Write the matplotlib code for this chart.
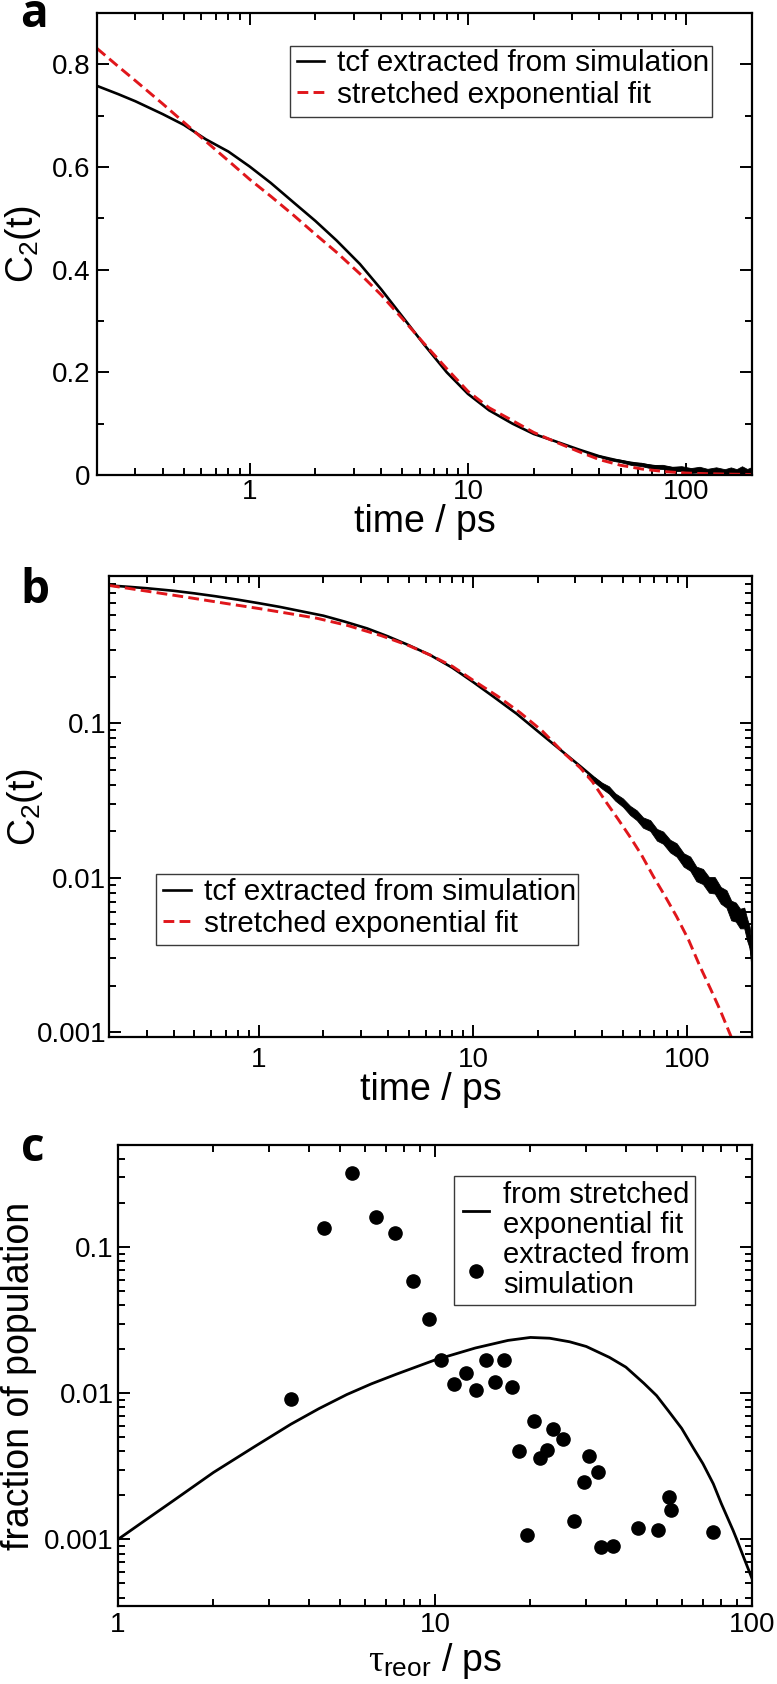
import matplotlib
matplotlib.use("Agg")
import matplotlib.pyplot as plt
from matplotlib.patches import Rectangle
from matplotlib.ticker import LogLocator, NullFormatter, MultipleLocator

plt.rcParams['font.family'] = ['Liberation Sans', 'DejaVu Sans']
plt.rcParams['mathtext.fontset'] = 'custom'
plt.rcParams['mathtext.rm'] = 'Liberation Sans'
plt.rcParams['mathtext.it'] = 'Liberation Serif'
plt.rcParams['mathtext.bf'] = 'Liberation Sans:bold'

# ---------------- data ----------------
# panel a : linear C2(t)
a_tcf_time = [0.2, 0.25, 0.3, 0.4, 0.5, 0.63, 0.8, 1.0, 1.25, 1.6, 2.0, 2.5, 3.2, 4.0, 5.0, 6.3, 8.0,
              10, 12.5, 16, 20, 25, 32, 40, 50, 63, 80, 100, 125, 160, 200]
a_tcf_c2 = [0.758, 0.742, 0.728, 0.703, 0.682, 0.654, 0.630, 0.601, 0.569, 0.530, 0.495, 0.457, 0.411,
            0.362, 0.309, 0.254, 0.200, 0.158, 0.126, 0.100, 0.080, 0.066, 0.050, 0.0365, 0.027, 0.020,
            0.0145, 0.0105, 0.008, 0.0058, 0.0045]
a_noise_time = [35, 40, 45, 50, 56, 62, 70, 78, 86, 95, 105, 115, 125, 137, 150, 160, 170, 180, 190, 200]
a_noise_upper = [0.043, 0.0385, 0.0325, 0.030, 0.025, 0.024, 0.0195, 0.0198, 0.016, 0.0172, 0.0135, 0.016,
                 0.012, 0.015, 0.0113, 0.0148, 0.0114, 0.017, 0.0117, 0.0155]
a_noise_lower = [0.041, 0.035, 0.0285, 0.025, 0.0195, 0.0175, 0.0125, 0.0118, 0.0075, 0.0077, 0.004, 0.005,
                 0.001, 0.0025, -0.0017, 0.0008, -0.0036, -0.001, -0.0063, -0.0035]
a_fit_time = [0.2, 0.25, 0.3, 0.4, 0.5, 0.63, 0.8, 1.0, 1.25, 1.6, 2.0, 2.5, 3.2, 4.0, 5.0, 6.3, 8.0,
              10, 12.5, 16, 20, 25, 32, 40, 50, 63, 80, 100, 125, 160, 200]
a_fit_c2 = [0.831, 0.796, 0.768, 0.723, 0.687, 0.650, 0.612, 0.576, 0.543, 0.505, 0.469, 0.434, 0.392,
            0.351, 0.305, 0.256, 0.207, 0.163, 0.131, 0.106, 0.083, 0.065, 0.046, 0.030, 0.019, 0.0115,
            0.0065, 0.0038, 0.0025, 0.0016, 0.0010]

# panel b : logarithmic C2(t)
b_tcf_time = [0.2, 0.25, 0.3, 0.4, 0.5, 0.63, 0.8, 1.0, 1.25, 1.6, 2.0, 2.5, 3.2, 4.0, 5.0, 6.3, 8.0,
              10, 12.5, 16, 20, 25, 32, 40, 50, 58, 67, 77, 89, 103, 118, 134, 152, 168, 184, 195, 200]
b_tcf_c2 = [0.782, 0.765, 0.750, 0.722, 0.695, 0.665, 0.632, 0.600, 0.568, 0.530, 0.498, 0.457, 0.412,
            0.366, 0.321, 0.277, 0.229, 0.185, 0.148, 0.115, 0.089, 0.069, 0.052, 0.040, 0.0302, 0.0248,
            0.0213, 0.0178, 0.0148, 0.0120, 0.0099, 0.0087, 0.0071, 0.0058, 0.0053, 0.0040, 0.0031]
b_noise_time = [34, 37, 40, 43, 46, 50, 54, 58, 62, 67, 72, 77, 83, 89, 96, 103, 110, 118, 126, 134, 143,
                152, 160, 168, 176, 184, 190, 195, 198, 200]
b_noise_upper = [0.0467, 0.0446, 0.0412, 0.0391, 0.0352, 0.0326, 0.0292, 0.0273, 0.0246, 0.0236, 0.0207,
                 0.0199, 0.0176, 0.0167, 0.0144, 0.0137, 0.0118, 0.0114, 0.0101, 0.0101, 0.0087, 0.0083,
                 0.0071, 0.0069, 0.0063, 0.0064, 0.0054, 0.0048, 0.0039, 0.0036]
b_noise_lower = [0.0449, 0.0413, 0.0377, 0.0351, 0.0316, 0.0288, 0.0255, 0.0236, 0.0211, 0.0201, 0.0174,
                 0.0166, 0.0146, 0.0137, 0.0118, 0.0111, 0.0095, 0.0091, 0.0080, 0.0079, 0.0068, 0.0064,
                 0.0053, 0.0052, 0.0047, 0.0047, 0.0039, 0.0035, 0.0028, 0.0026]
b_fit_time = [0.2, 0.3, 0.45, 0.7, 1.01, 1.4, 1.87, 2.6, 3.72, 5.0, 6.3, 8.0, 10, 13, 16.6, 21, 26.4,
              31.6, 36, 42, 47.5, 53.8, 61, 69.3, 78.5, 89, 101, 114.6, 128, 142, 159, 165]
b_fit_c2 = [0.782, 0.718, 0.659, 0.598, 0.553, 0.513, 0.479, 0.430, 0.370, 0.319, 0.277, 0.234, 0.190,
            0.150, 0.117, 0.0893, 0.0645, 0.0515, 0.0419, 0.0305, 0.0239, 0.0185, 0.01406, 0.0102,
            0.00762, 0.0056, 0.00398, 0.00265, 0.00191, 0.00139, 0.00095, 0.00084]

# panel c : distribution of reorientation times
c_fit_tau = [1, 1.2, 1.5, 2, 2.7, 3.51, 4.3, 5.27, 6.3, 7.55, 10, 13.4, 17, 20, 23, 26.6, 30, 35.5, 40,
             45.6, 50, 54.6, 60, 65.4, 70, 75.5, 80, 87.2, 89.5, 94, 100]
c_fit_frac = [0.00100, 0.00132, 0.00185, 0.00287, 0.00432, 0.00614, 0.00784, 0.0098, 0.0116, 0.0135,
              0.0169, 0.0204, 0.0230, 0.0241, 0.0238, 0.0225, 0.0209, 0.0176, 0.0151, 0.0117, 0.00964,
              0.00753, 0.00575, 0.0042, 0.0033, 0.0024, 0.00176, 0.00115, 0.00100, 0.00076, 0.00054]
c_sim_tau = [3.51, 4.48, 5.48, 6.52, 7.47, 8.51, 9.55, 10.48, 11.5, 12.5, 13.5, 14.5, 15.45, 16.5, 17.5,
             18.4, 19.5, 20.5, 21.5, 22.6, 23.5, 25.4, 27.5, 29.5, 30.6, 32.7, 33.5, 36.5, 43.6, 50.5,
             54.6, 55.4, 75.5]
c_sim_frac = [0.00908, 0.135, 0.322, 0.16, 0.124, 0.0584, 0.0323, 0.0168, 0.01154, 0.01368, 0.01045, 0.01686,
              0.012, 0.01686, 0.011, 0.00403, 0.00107, 0.0065, 0.00362, 0.00412, 0.00571, 0.00485, 0.00134,
              0.00248, 0.00373, 0.0029, 0.00089, 0.000906, 0.00119, 0.001156, 0.00196, 0.0016, 0.001125]

x_major = [1, 10, 100]
x_major_labels = ['1', '10', '100']
a_y_major = [0, 0.2, 0.4, 0.6, 0.8]
a_y_labels = ['0', '0.2', '0.4', '0.6', '0.8']
log_y_major = [0.001, 0.01, 0.1]
log_y_labels = ['0.001', '0.01', '0.1']

RED = '#e0161b'
W, H = 777, 1684

fig = plt.figure(figsize=(W / 100, H / 100), dpi=100)


def box(l, t, r, b):
    return [l / W, 1 - b / H, (r - l) / W, (b - t) / H]


axa = fig.add_axes(box(97, 13, 752, 475))
axb = fig.add_axes(box(109, 576, 752, 1037))
axc = fig.add_axes(box(118, 1145, 752, 1606))


def style(ax, xpad, ypad):
    for s in ax.spines.values():
        s.set_linewidth(1.6)
    ax.tick_params(which='both', direction='in', top=True, right=True, labelsize=20, width=1.4)
    ax.tick_params(which='major', length=8.5)
    ax.tick_params(which='minor', length=5)
    ax.tick_params(axis='x', which='major', pad=xpad)
    ax.tick_params(axis='y', which='major', pad=ypad)


def log_x(ax):
    ax.set_xscale('log')
    ax.set_xticks(x_major)
    ax.set_xticklabels(x_major_labels)
    ax.xaxis.set_minor_locator(LogLocator(base=10, subs=range(2, 10), numticks=20))
    ax.xaxis.set_minor_formatter(NullFormatter())


def log_y(ax):
    ax.set_yscale('log')
    ax.set_yticks(log_y_major)
    ax.set_yticklabels(log_y_labels)
    ax.yaxis.set_minor_locator(LogLocator(base=10, subs=range(2, 10), numticks=20))
    ax.yaxis.set_minor_formatter(NullFormatter())


def legend_at(ax, x_px, y_px, frame, fs, hl, htp, ls):
    l, t, r, b = frame
    rect = Rectangle((l / W, 1 - b / H), (r - l) / W, (b - t) / H, transform=fig.transFigure,
                     facecolor='white', edgecolor='#3a3a3a', lw=1.0, zorder=4)
    ax.add_patch(rect)
    inv = ax.transAxes.inverted()
    fx, fy = inv.transform(fig.transFigure.transform((x_px / W, 1 - y_px / H)))
    leg = ax.legend(loc='upper left', bbox_to_anchor=(fx, fy), borderaxespad=0, borderpad=0,
                    fontsize=fs, frameon=False, handlelength=hl, handletextpad=htp,
                    labelspacing=ls, numpoints=1)
    leg.set_zorder(6)
    return leg


# ---------- panel a ----------
axa.fill_between(a_noise_time, a_noise_lower, a_noise_upper, color='black', lw=0.6)
axa.plot(a_tcf_time, a_tcf_c2, color='black', lw=1.9, label='tcf extracted from simulation')
axa.plot(a_fit_time, a_fit_c2, color=RED, lw=2.1, dashes=(3.7, 1.8), label='stretched exponential fit')
log_x(axa)
axa.set_xlim(0.2, 200)
axa.set_ylim(0, 0.9)
axa.set_yticks(a_y_major)
axa.set_yticklabels(a_y_labels)
axa.yaxis.set_minor_locator(MultipleLocator(0.1))
style(axa, 3, 5)
axa.set_xlabel('time / ps', fontsize=27)
axa.set_ylabel('C$_2$(t)', fontsize=27)
axa.xaxis.set_label_coords(0.5, -0.062)
axa.yaxis.set_label_coords(-0.083, 0.5)

# ---------- panel b ----------
axb.fill_between(b_noise_time, b_noise_lower, b_noise_upper, color='black', lw=0.6)
axb.plot(b_tcf_time, b_tcf_c2, color='black', lw=1.9, label='tcf extracted from simulation')
axb.plot(b_fit_time, b_fit_c2, color=RED, lw=2.1, dashes=(3.7, 1.8), label='stretched exponential fit')
log_x(axb)
log_y(axb)
axb.set_xlim(0.2, 200)
axb.set_ylim(0.00093, 0.9)
style(axb, 7, 2)
axb.set_xlabel('time / ps', fontsize=27)
axb.set_ylabel('C$_2$(t)', fontsize=27)
axb.xaxis.set_label_coords(0.5, -0.077)
axb.yaxis.set_label_coords(-0.1, 0.5)

# ---------- panel c ----------
axc.plot(c_fit_tau, c_fit_frac, color='black', lw=2.0, label='from stretched\nexponential fit')
axc.plot(c_sim_tau, c_sim_frac, 'o', color='black', ms=9.5, label='extracted from\nsimulation')
log_x(axc)
log_y(axc)
axc.set_xlim(1, 100)
axc.set_ylim(0.00035, 0.5)
style(axc, 4, 3)
axc.set_xlabel(r'$\tau_{\mathrm{reor}}$ / ps', fontsize=27)
axc.set_ylabel('fraction of population', fontsize=27)
axc.xaxis.set_label_coords(0.5, -0.075)
axc.yaxis.set_label_coords(-0.128, 0.5)

# ---------- legends (frames at the reference positions) ----------
legend_at(axa, 297, 49, (290, 46, 712, 117), fs=21.4, hl=0.91, htp=0.44, ls=0.12)
legend_at(axb, 163, 878, (156, 874, 578, 945), fs=21.4, hl=0.94, htp=0.45, ls=0.12)
lc = legend_at(axc, 463, 1181, (454, 1176, 695, 1305), fs=21, hl=0.89, htp=0.48, ls=0.06)
for t in lc.get_texts():
    t.set_linespacing(1.1)

# ---------- panel letters ----------
for letter, x, y in [('a', 20, 27), ('b', 20, 603), ('c', 21, 1161)]:
    fig.text(x / W, 1 - y / H, letter, fontsize=33, fontweight='bold', family=['Open Sans', 'DejaVu Sans'],
             ha='left', va='baseline')

fig.savefig('out.png', dpi=100, facecolor='white')
